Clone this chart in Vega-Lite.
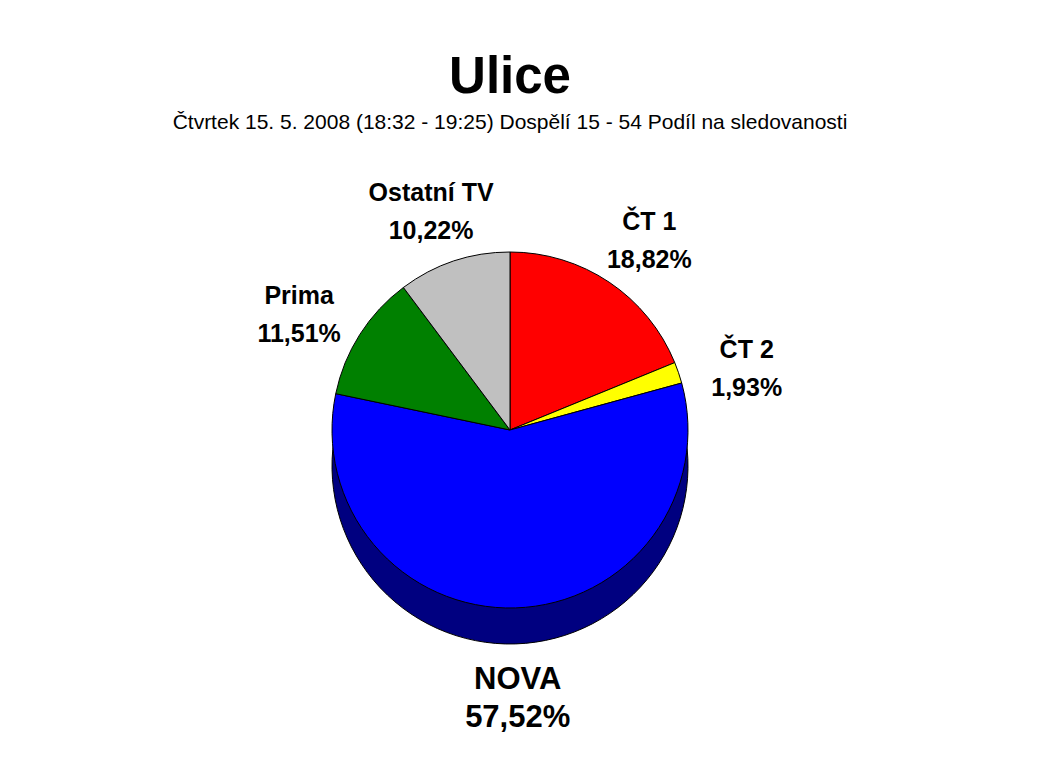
{
  "$schema": "https://vega.github.io/schema/vega-lite/v6.json",
  "width": 1020,
  "height": 544,
  "padding": {"top": 52, "left": 0, "right": 0, "bottom": 0},
  "background": "white",
  "title": {
    "text": "Ulice",
    "subtitle": "Čtvrtek 15. 5. 2008 (18:32 - 19:25) Dospělí 15 - 54 Podíl na sledovanosti",
    "font": "Liberation Sans",
    "fontSize": 51,
    "fontWeight": "bold",
    "color": "black",
    "subtitleFont": "Liberation Sans",
    "subtitleFontSize": 21,
    "subtitleColor": "black",
    "subtitlePadding": 8,
    "anchor": "middle",
    "offset": 24
  },
  "data": {
    "values": [
      {"name": "ČT 1", "value": 18.82, "pct": "18,82%", "order": 1},
      {"name": "ČT 2", "value": 1.93, "pct": "1,93%", "order": 2},
      {"name": "NOVA", "value": 57.52, "pct": "57,52%", "order": 3},
      {"name": "Prima", "value": 11.51, "pct": "11,51%", "order": 4},
      {"name": "Ostatní TV", "value": 10.22, "pct": "10,22%", "order": 5}
    ]
  },
  "transform": [
    {"calculate": "datum.name + '\\n' + datum.pct", "as": "label"}
  ],
  "encoding": {
    "theta": {"field": "value", "type": "quantitative", "stack": true},
    "order": {"field": "order", "type": "quantitative"}
  },
  "layer": [
    {
      "mark": {"type": "arc", "radius": 178, "yOffset": 36, "color": "#000080", "stroke": "black", "strokeWidth": 1}
    },
    {
      "mark": {"type": "arc", "radius": 178, "stroke": "black", "strokeWidth": 1},
      "encoding": {
        "color": {
          "field": "name",
          "type": "nominal",
          "scale": {
            "domain": ["ČT 1", "ČT 2", "NOVA", "Prima", "Ostatní TV"],
            "range": ["#FF0000", "#FFFF00", "#0000FF", "#008000", "#C0C0C0"]
          },
          "legend": null
        }
      }
    },
    {
      "mark": {"type": "text", "radius": 250, "lineBreak": "\n", "font": "Liberation Sans", "fontWeight": "bold", "align": "center", "baseline": "middle", "lineHeight": 38, "color": "black"},
      "encoding": {
        "text": {"field": "label", "type": "nominal"},
        "size": {"condition": {"test": "datum.name === 'NOVA'", "value": 31}, "value": 25}
      }
    }
  ],
  "config": {"view": {"stroke": null}}
}
